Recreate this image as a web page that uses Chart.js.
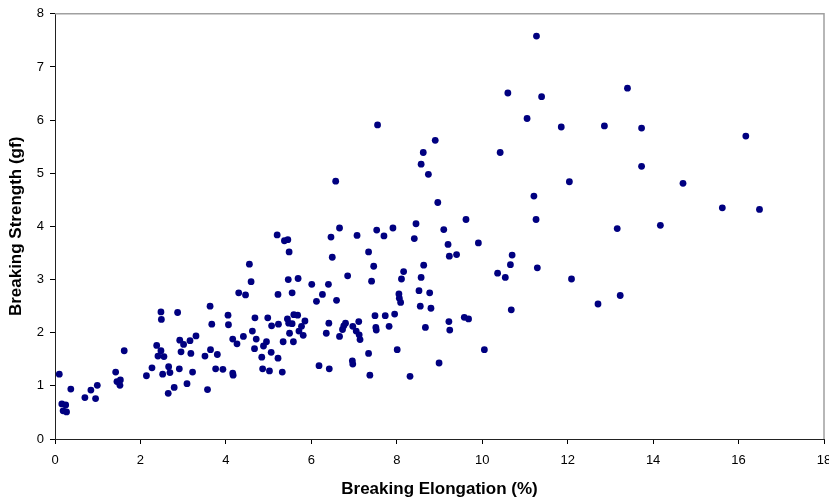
<!DOCTYPE html>
<html>
<head>
<meta charset="utf-8">
<script src="https://cdn.jsdelivr.net/npm/chart.js@4"></script>
<style>
  html, body { margin: 0; padding: 0; background: #fff; overflow: hidden; }
  #wrap { width: 829px; height: 498px; position: relative; }
</style>
</head>
<body>
<div id="wrap"><canvas id="grafico"></canvas></div>
<script>
// valores
const elongation = [
  0.10, 0.16, 0.25, 0.19, 0.27, 0.37, 0.70, 0.84, 0.95, 0.99,
  1.42, 1.45, 1.53, 1.52, 1.62, 2.14, 2.27, 2.38, 2.48, 2.49,
  2.48, 2.41, 2.55, 2.52, 2.66, 2.69, 2.65, 2.79, 2.87, 2.92,
  3.01, 2.95, 2.91, 3.09, 3.16, 3.18, 3.22, 3.30, 3.51, 3.57,
  3.63, 3.67, 3.64, 3.80, 3.76, 3.93, 4.05, 4.06, 4.16, 4.26,
  4.16, 4.17, 4.30, 4.46, 4.55, 4.59, 4.41, 4.62, 4.68, 4.71,
  4.67, 4.84, 4.88, 4.95, 4.86, 5.02, 4.98, 5.07, 5.06, 5.22,
  5.23, 5.22, 5.20, 5.32,
  5.37, 5.45, 5.48, 6.57, 8.74, 8.96, 6.66, 6.46, 6.49, 7.07,
  7.53, 7.70, 7.91, 8.45, 8.41, 9.10, 9.20, 9.23, 9.40, 7.34,
  7.46, 6.85, 7.41, 8.16, 8.11, 8.63, 8.57, 8.52, 8.77, 8.55,
  8.80, 8.05, 8.06, 8.09, 5.46, 5.69, 5.55, 6.01, 6.40, 6.26,
  6.12, 6.59, 5.44, 5.47, 5.55, 5.59, 5.68, 5.85, 5.77, 5.71,
  5.81, 5.49, 5.34, 5.58, 6.41, 6.35, 6.66, 6.73, 6.76, 6.80,
  6.97, 7.05, 7.12, 7.14, 7.11, 7.49, 7.51, 7.52, 7.73, 7.82,
  7.95, 7.34, 8.01, 6.18, 6.42, 6.96, 6.97, 7.37, 8.31, 8.67,
  8.99, 9.22, 9.24,
  9.62, 9.91, 10.70, 10.66, 10.36, 10.54, 11.29, 11.21, 11.26, 12.04,
  13.16, 12.09, 13.23, 12.71, 10.68, 9.58, 9.68, 10.05,
  14.70, 15.62, 16.49, 14.17,
  11.27, 10.60, 11.39, 11.05, 7.55, 8.90, 8.62, 8.57, 10.42,
  13.40, 11.85, 12.86, 13.73, 16.17, 13.73
];

const strength = [
  1.22, 0.66, 0.64, 0.53, 0.51, 0.94, 0.78, 0.92, 0.76, 1.01,
  1.26, 1.08, 1.11, 1.01, 1.66, 1.19, 1.34, 1.76, 2.39, 2.25,
  1.66, 1.56, 1.55, 1.22, 1.36, 1.25, 0.86, 0.97, 2.38, 1.86,
  1.78, 1.64, 1.32, 1.04, 1.85, 1.61, 1.26, 1.94, 1.56, 0.93,
  2.50, 2.16, 1.68, 1.59, 1.32, 1.31, 2.33, 2.15, 1.88, 1.79,
  1.24, 1.20, 2.75, 2.71, 3.29, 2.96, 1.93, 2.03, 2.28, 1.88,
  1.70, 1.54, 1.75, 1.83, 1.32, 1.28, 2.28, 2.13, 1.63, 2.72,
  2.16, 1.52, 3.84, 1.26,
  3.73, 3.75, 3.52, 4.85, 4.98, 4.45, 3.97, 3.80, 3.42, 3.83,
  3.93, 3.82, 3.97, 4.05, 3.77, 3.94, 3.66, 3.44, 3.47, 3.52,
  3.25, 3.07, 2.97, 3.15, 3.01, 3.27, 3.04, 2.79, 2.75, 2.50,
  2.46, 2.73, 2.65, 2.57, 3.00, 3.02, 2.75, 2.91, 2.91, 2.72,
  2.59, 2.61, 2.26, 2.18, 2.17, 2.34, 2.33, 2.22, 2.12, 2.03,
  1.95, 1.99, 1.83, 1.83, 2.18, 1.99, 1.93, 2.06, 2.13, 2.18,
  2.12, 2.03, 1.96, 1.87, 2.21, 2.32, 2.10, 2.05, 2.32, 2.12,
  2.35, 1.61, 1.68, 1.38, 1.32, 1.47, 1.41, 1.20, 1.18, 2.10,
  1.43, 2.21, 2.05,
  4.13, 3.69, 3.46, 3.28, 3.12, 3.04, 3.22, 4.57, 4.13, 4.84,
  3.96, 3.01, 2.70, 2.54, 2.43, 2.29, 2.26, 1.68,
  4.81, 4.35, 4.32, 4.02,
  7.58, 6.51, 6.44, 6.03, 5.91, 5.62, 5.39, 5.17, 5.39,
  6.60, 5.87, 5.89, 5.85, 5.70, 5.13
];

const xTicks = [0, 2, 4, 6, 8, 10, 12, 14, 16, 18];
const yTicks = [0, 1, 2, 3, 4, 5, 6, 7, 8];

const fuente = "'Liberation Sans', Arial, Helvetica, sans-serif";

// borde gris arriba y a la derecha del area de trazado
const bordeArea = {
  id: "bordeArea",
  afterDraw(chart) {
    const { ctx, chartArea } = chart;
    ctx.save();
    ctx.strokeStyle = "#a0a0a0";
    ctx.lineWidth = 1.5;
    ctx.beginPath();
    ctx.moveTo(chartArea.left, chartArea.top);
    ctx.lineTo(chartArea.right, chartArea.top);
    ctx.lineTo(chartArea.right, chartArea.bottom);
    ctx.stroke();
    ctx.restore();
  },
};

const puntos = elongation.map((x, i) => ({ x, y: strength[i] }));

new Chart(document.getElementById("grafico"), {
  type: "scatter",
  data: {
    datasets: [
      {
        data: puntos,
        backgroundColor: "#000080",
        borderColor: "#000080",
        pointRadius: 3.4,
        borderWidth: 0,
      },
    ],
  },
  options: {
    responsive: true,
    maintainAspectRatio: false,
    animation: false,
    layout: { padding: { top: 13, right: 5, left: 0, bottom: 0 } },
    plugins: {
      legend: { display: false },
      tooltip: { enabled: false },
    },
    scales: {
      x: {
        type: "linear",
        min: xTicks[0],
        max: xTicks[xTicks.length - 1],
        afterBuildTicks: (scale) => {
          scale.ticks = xTicks.map((v) => ({ value: v }));
        },
        afterFit: (scale) => {
          scale.height = 59;
          // el "18" queda cortado en el borde, como en el original
          scale.paddingRight = 0;
          scale.paddingLeft = 0;
        },
        grid: {
          drawOnChartArea: false,
          drawTicks: true,
          tickLength: 5,
          color: "#000",
        },
        border: { color: "#222", width: 1 },
        ticks: {
          color: "#000",
          padding: 9,
          font: { family: fuente, size: 13 },
          maxRotation: 0,
        },
        title: {
          display: true,
          text: "Breaking Elongation (%)",
          color: "#000",
          font: { family: fuente, size: 17, weight: "bold" },
          padding: { top: 0, bottom: -2 },
        },
      },
      y: {
        type: "linear",
        min: yTicks[0],
        max: yTicks[yTicks.length - 1],
        afterBuildTicks: (scale) => {
          scale.ticks = yTicks.map((v) => ({ value: v }));
        },
        afterFit: (scale) => {
          scale.width = 55;
        },
        grid: {
          drawOnChartArea: false,
          drawTicks: true,
          tickLength: 5,
          color: "#000",
        },
        border: { color: "#222", width: 1 },
        ticks: {
          color: "#000",
          padding: 6,
          font: { family: fuente, size: 13 },
        },
        title: {
          display: true,
          text: "Breaking Strength (gf)",
          color: "#000",
          font: { family: fuente, size: 17, weight: "bold" },
          padding: { top: 6.5, bottom: 0 },
        },
      },
    },
  },
  plugins: [bordeArea],
});
</script>
</body>
</html>
